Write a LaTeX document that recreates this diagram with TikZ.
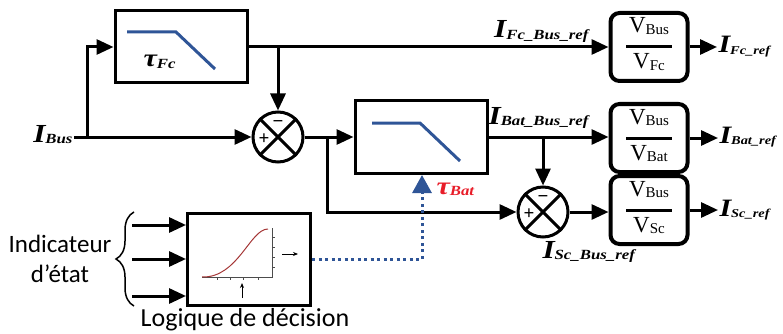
\documentclass[tikz,border=0pt]{standalone}
\usepackage{fontspec}
\setmainfont{Liberation Serif}
\newfontfamily\labfont[FakeStretch=1.2]{Liberation Serif}
\newfontfamily\calfont{Carlito}
\usetikzlibrary{arrows.meta,decorations.pathreplacing,calc}

\definecolor{filtblue}{RGB}{47,85,151}
\definecolor{taured}{RGB}{232,28,40}
\definecolor{curvered}{RGB}{165,55,55}

% courant : grand I + indice
\newcommand{\curr}[1]{{\labfont\bfseries\itshape\fontsize{26}{26}\selectfont I\raisebox{-1.5pt}{\fontsize{14}{14}\selectfont #1}}}
% courant de sortie (plus petit)
\newcommand{\currout}[1]{{\labfont\bfseries\itshape\fontsize{25}{25}\selectfont I\raisebox{-1.5pt}{\fontsize{12}{12}\selectfont #1}}}
% constante de temps
\newcommand{\tconst}[1]{{\labfont\bfseries\itshape\fontsize{25}{25}\selectfont τ\raisebox{-1.5pt}{\fontsize{14}{14}\selectfont #1}}}
% tension
\newcommand{\volt}[1]{{\fontsize{23}{23}\selectfont V\raisebox{-1.5pt}{\fontsize{15}{15}\selectfont #1}}}

\begin{document}
\begin{tikzpicture}[x=1pt,y=-1pt,
  line width=3pt,
  arr/.style={-{Triangle[length=17pt,width=15pt]}},
  filtbox/.style={draw,rectangle,minimum width=132pt,minimum height=72pt,inner sep=0pt},
  sumnode/.style={draw,circle,minimum size=50pt,inner sep=0pt},
  gainbox/.style={draw,rectangle,rounded corners=9pt,line width=4pt,
    minimum width=77pt,minimum height=68pt,inner sep=0pt},
  lbl/.style={inner sep=0pt},
  dotline/.style={filtblue,line width=3pt,dash pattern=on 3pt off 3.5pt,
    -{Triangle[length=18pt,width=19pt]},shorten >=1.5pt}]

\useasboundingbox (0,0) rectangle (783,334);

% Filtres
\node[filtbox] (lpffc) at (181,47) {};
\node[filtbox,minimum height=73pt] (lpfbat) at (421,137) {};

\draw[filtblue]
(127,32) -- (176,32) -- (215,69);

\draw[filtblue]
(372,123) -- (420,123) -- (460,161);

\node[lbl,anchor=base west] (taufc) at (142,67)
{\tconst{Fc}};

\node[lbl,anchor=base west,text=taured] (taubat) at (435,194)
{\tconst{Bat}};

% Sommateurs
\node[sumnode] (s1) at (278,137) {};
\node[sumnode] (s2) at (543,212) {};

\draw (s1.45) -- (s1.225) (s1.135) -- (s1.315);
\draw (s2.45) -- (s2.225) (s2.135) -- (s2.315);

\node[lbl] (p1) at ($(s1)+(-14,2)$) {\fontsize{19}{19}\selectfont\bfseries +};
\node[lbl] (m1) at ($(s1)+(0,-13)$) {\fontsize{19}{19}\selectfont\bfseries −};
\node[lbl] (p2) at ($(s2)+(-14,2)$) {\fontsize{19}{19}\selectfont\bfseries +};
\node[lbl] (m2) at ($(s2)+(0,-13)$) {\fontsize{19}{19}\selectfont\bfseries −};

% Gains
\node[gainbox] (vfc) at (649,47) {};
\node[gainbox] (vbat) at (649,138) {};
\node[gainbox] (vsc) at (649,210) {};

\foreach \g/\d in {vfc/Fc,vbat/Bat,vsc/Sc}{
  \node[lbl,anchor=base] at ($(\g)+(0,-14)$) {\volt{Bus}};
  \node[lbl,anchor=base] at ($(\g)+(0,22)$) {\volt{\d}};
  \draw ($(\g)+(-23,0)$) -- ($(\g)+(23,0)$);
}

% Entree
\node[lbl,anchor=base east] (ibus) at (74,142)
{\curr{Bus}};

\coordinate (split1) at (87,137);
\coordinate (split2) at (327,137);

\draw[arr] (ibus.east |- split1) -- (s1.west);
\draw[arr] (split1) |- (lpffc.west);
\draw[arr] (lpffc.east) -- (vfc.west);
\draw[arr] (s1 |- lpffc.east) -- (s1.north);
\draw[arr] (s1.east) -- (lpfbat.west);
\draw[arr] (split2) |- (s2.west);
\draw[arr] (lpfbat.east) -- (lpfbat.east -| vbat.west);
\draw[arr] (s2 |- lpfbat.east) -- (s2.north);
\draw[arr] (s2.east) -- (s2.east -| vsc.west);

% Sorties
\node[lbl,anchor=base west] (ofc) at (717,53) {\currout{Fc\_ref}};
\node[lbl,anchor=base west] (obat) at (718,143) {\currout{Bat\_ref}};
\node[lbl,anchor=base west] (osc) at (718,216) {\currout{Sc\_ref}};

\draw[arr] (vfc.east) -- (vfc.east -| ofc.west);
\draw[arr] (vbat.east) -- (vbat.east -| obat.west);
\draw[arr] (vsc.east) -- (vsc.east -| osc.west);

\node[lbl,anchor=base east] (ifcbus) at (590,38) {\curr{Fc\_Bus\_ref}};
\node[lbl,anchor=base east] (ibatbus) at (590,124) {\curr{Bat\_Bus\_ref}};
\node[lbl,anchor=base west] (iscbus) at (541,258) {\curr{Sc\_Bus\_ref}};

% Logique de decision
\node[draw,rectangle,minimum width=123pt,minimum height=92pt,inner sep=0pt]
(logic) at (249,259) {};

\node[lbl,anchor=base] (logtxt) at (245,326)
{\calfont\fontsize{26}{26}\selectfont Logique de décision};

\node[lbl,align=center,font=\calfont\fontsize{25}{30}\selectfont] (ind) at (60,259)
{Indicateur\\d’état};

\draw[line width=1.5pt,decorate,decoration={brace,amplitude=18pt}]
(134,306) -- (134,212);

\foreach \yy [count=\i] in {225,259,296}{
  \coordinate (in\i) at (132,\yy);
  \draw[arr] (in\i) -- (in\i -| logic.west);
}

% courbe
\draw[line width=0.8pt,black!70]
(202,277) -- (272,277) -- (272,228);
\foreach \tx in {217,230,243,258}
  \draw[line width=0.6pt,black!70] (\tx,277) -- (\tx,280);
\foreach \ty in {237,247,257,267}
  \draw[line width=0.6pt,black!70] (272,\ty) -- (275,\ty);
\draw[line width=1pt,curvered]
(202,277) .. controls (238,278) and (250,229) .. (268,229);
\draw[line width=1pt,-{Stealth[length=5pt,width=4pt]}]
(282,254) -- (298,254);
\draw[line width=1pt,-{Stealth[length=5pt,width=4pt]}]
(242,298) -- (242,283);

% commande tau Bat
\coordinate (tbat) at (422,173.5);
\draw[dotline] (logic.east) -| (tbat);

\end{tikzpicture}
\end{document}
